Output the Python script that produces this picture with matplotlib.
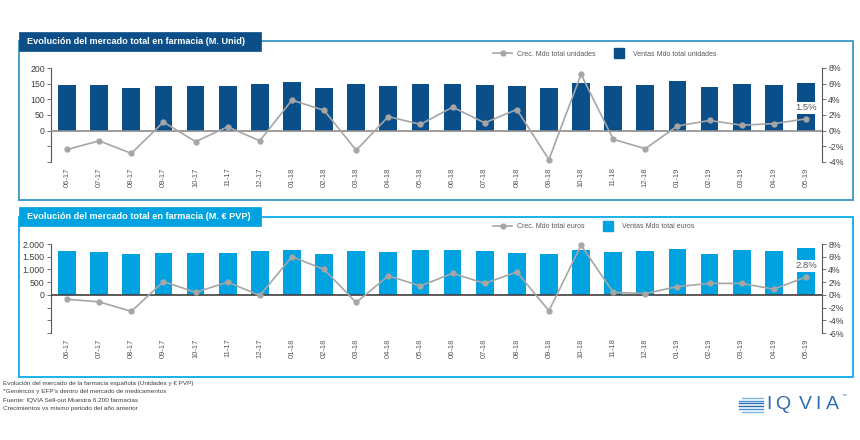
import numpy as np
import matplotlib.pyplot as plt
from matplotlib.patches import Rectangle
from matplotlib.lines import Line2D
from matplotlib.ticker import FixedLocator, FuncFormatter

plt.rcParams['font.family'] = ['Liberation Sans', 'DejaVu Sans']

# datos
meses = ['06-17', '07-17', '08-17', '09-17', '10-17', '11-17', '12-17', '01-18',
         '02-18', '03-18', '04-18', '05-18', '06-18', '07-18', '08-18', '09-18',
         '10-18', '11-18', '12-18', '01-19', '02-19', '03-19', '04-19', '05-19']
ventas_unid = [145, 145, 137, 141, 141, 144, 150, 155, 137, 149, 143, 150,
               149, 146, 141, 137, 153, 143, 147, 157, 140, 150, 145, 153]
crec_unid = [-2.4, -1.3, -2.9, 1.1, -1.4, 0.5, -1.3, 3.9, 2.6, -2.5, 1.8, 0.8,
             3.0, 1.0, 2.7, -3.7, 7.2, -1.1, -2.3, 0.6, 1.3, 0.7, 0.9, 1.5]
ventas_eur = [1724, 1697, 1618, 1658, 1658, 1658, 1710, 1776, 1605, 1737, 1697, 1763,
              1776, 1724, 1658, 1605, 1776, 1671, 1724, 1816, 1618, 1776, 1710, 1829]
crec_eur = [-0.7, -1.1, -2.6, 2.1, 0.4, 2.0, -0.1, 6.0, 4.0, -1.2, 3.0, 1.4,
            3.4, 1.8, 3.6, -2.5, 7.8, 0.4, 0.2, 1.3, 1.8, 1.8, 0.9, 2.8]

notas = ["Evolución del mercado de la farmacia española (Unidades y € PVP)",
         "*Genéricos y EFP's dentro del mercado de medicamentos",
         "Fuente: IQVIA Sell-out Muestra 6.200 farmacias",
         "Crecimientos vs mismo periodo del año anterior"]

W, H = 860, 440
GRIS = '#a6a6a6'
TXT = '#404040'

fig = plt.figure(figsize=(W / 100, H / 100), dpi=100)


def fx(px):
    return px / W


def fy(py):
    return 1 - py / H


def miles(v, pos):
    if v < 0:
        return ''
    return f'{v:,.0f}'.replace(',', '.')


def panel(box, tab, box_col, tab_col, titulo, ax_y, ventas, crec, bar_col,
          lticks, llim, rticks, rlim, zero_col, labels, leg_xy):
    # marco y pestaña del titulo
    fig.patches.append(Rectangle((fx(19), fy(box[1])), fx(853) - fx(19), fy(box[0]) - fy(box[1]),
                                 transform=fig.transFigure, fill=False, edgecolor=box_col, lw=1.4))
    fig.patches.append(Rectangle((fx(19), fy(tab[1])), fx(261) - fx(19), fy(tab[0]) - fy(tab[1]),
                                 transform=fig.transFigure, facecolor=tab_col, edgecolor=tab_col, lw=0.5))
    fig.text(fx(27), fy((tab[0] + tab[1]) / 2), titulo, color='white', fontsize=6.6,
             fontweight='bold', va='center', ha='left')

    ax = fig.add_axes([fx(51), fy(ax_y[1]), fx(822) - fx(51), (ax_y[1] - ax_y[0]) / H])
    x = np.arange(len(meses))
    ax.bar(x, ventas, width=0.55, color=bar_col, zorder=2)
    ax.axhline(0, color=zero_col, lw=1.2, zorder=3)
    ax.set_xlim(-0.5, len(meses) - 0.5)
    ax.set_ylim(*llim)
    ax.yaxis.set_major_locator(FixedLocator(lticks))
    ax.yaxis.set_major_formatter(FuncFormatter(miles))
    ax.set_xticks(x)
    ax.set_xticklabels(meses, rotation=90, fontsize=5.5, color='#595959')
    ax.tick_params(axis='x', length=0, pad=4)
    ax.tick_params(axis='y', length=3, width=0.6, color='#595959', labelcolor=TXT,
                   labelsize=6.3, pad=1.5)
    for s in ['top', 'bottom', 'right']:
        ax.spines[s].set_visible(False)
    ax.spines['left'].set_color('#595959')
    ax.spines['left'].set_linewidth(0.8)

    ax2 = ax.twinx()
    ax2.plot(x, crec, color=GRIS, lw=1.2, marker='o', ms=3.5, zorder=4, clip_on=False)
    ax2.set_ylim(*rlim)
    ax2.yaxis.set_major_locator(FixedLocator(rticks))
    ax2.yaxis.set_major_formatter(FuncFormatter(lambda v, p: f'{v:.0f}%'))
    ax2.tick_params(axis='y', length=3, width=0.6, color='#595959', labelcolor=TXT,
                    labelsize=6.3, pad=1.5)
    for s in ['top', 'bottom', 'left']:
        ax2.spines[s].set_visible(False)
    ax2.spines['right'].set_color('#595959')
    ax2.spines['right'].set_linewidth(0.8)
    ax2.annotate(f'{crec[-1]:.1f}%', (x[-1], crec[-1]), xytext=(0, 8), textcoords='offset points',
                 ha='center', va='center', fontsize=6.8, color='#595959',
                 bbox=dict(boxstyle='square,pad=0.15', fc='white', ec='none'))

    handles = [Line2D([], [], color=GRIS, lw=1.2, marker='o', ms=3.5),
               Line2D([], [], color=bar_col, lw=0, marker='s', ms=7.5)]
    ax2.legend(handles, labels, ncol=2, loc='center', bbox_to_anchor=(fx(leg_xy[0]), fy(leg_xy[1])),
               bbox_transform=fig.transFigure, frameon=False, fontsize=5.0,
               columnspacing=2.0, handlelength=2.75, handletextpad=0.7, labelcolor='#595959')


panel((41, 200.5), (32, 51), '#4a9ccb', '#0c4f88', 'Evolución del mercado total en farmacia (M. Unid)',
      (68, 162), ventas_unid, crec_unid, '#0b4f8a',
      [-100, -50, 0, 50, 100, 150, 200], (-100, 200), range(-4, 9, 2), (-4, 8), '#8c8c8c',
      ['Crec. Mdo total unidades', 'Ventas Mdo total unidades'], (605, 54))

panel((217, 377), (207, 226), '#1ab2ec', '#00a3e0', 'Evolución del mercado total en farmacia (M. € PVP)',
      (244, 333), ventas_eur, crec_eur, '#00a3e0',
      [-1500, -1000, -500, 0, 500, 1000, 1500, 2000], (-1500, 2000), range(-6, 9, 2), (-6, 8), '#404040',
      ['Crec. Mdo total euros', 'Ventas Mdo total euros'], (594, 227))

# notas al pie
for i, t in enumerate(notas):
    fig.text(fx(3), fy(383 + i * 8.5), t, fontsize=4.6, color=TXT, va='center', ha='left')

# logo IQVIA
letras_x = [769, 783, 805, 818, 832]
for c, lx in zip('IQVIA', letras_x):
    fig.text(fx(lx), fy(404), c, fontsize=14, color='#2d6db4', va='center',
             ha='center', fontweight='light')
fig.text(fx(842), fy(395), '™', fontsize=3.5, color='#2d6db4', va='center', ha='left')
for k in range(6):
    yk = 398 + k * 2.7
    x0 = 739 + (3 if k in (0, 5) else 0)
    col = ['#7fb6e6', '#4a90d4', '#2f74c0', '#2a66b0', '#4a90d4', '#7fb6e6'][k]
    fig.add_artist(Line2D([fx(x0), fx(763)], [fy(yk), fy(yk)], transform=fig.transFigure,
                          color=col, lw=1.0))

fig.savefig('out.png', dpi=100)
